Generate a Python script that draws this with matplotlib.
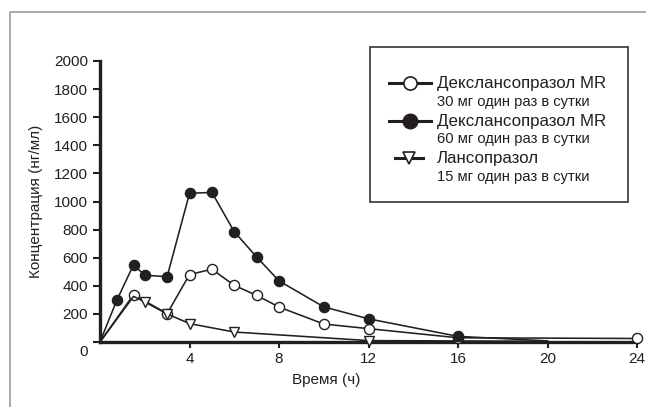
import matplotlib
matplotlib.use("Agg")
import matplotlib.pyplot as plt
from matplotlib.lines import Line2D
from matplotlib.patches import Rectangle
from matplotlib.transforms import ScaledTranslation

# данные (время, ч / концентрация, нг/мл)
t_60 = [0, 0.75, 1.5, 2, 3, 4, 5, 6, 7, 8, 10, 12, 16, 20]
c_60 = [0, 297, 550, 475, 465, 1058, 1065, 785, 605, 435, 250, 165, 40, 8]

t_30 = [0, 1.5, 3, 4, 5, 6, 7, 8, 10, 12, 16, 24]
c_30 = [0, 337, 202, 480, 518, 403, 332, 249, 128, 95, 30, 25]

t_15 = [0, 1.5, 2, 3, 4, 6, 12, 20]
c_15 = [0, 325, 285, 200, 131, 71, 10, 5]

x_ticks = [4, 8, 12, 16, 20, 24]
y_ticks = list(range(0, 2001, 200))

leg_names = ["Декслансопразол MR", "Декслансопразол MR", "Лансопразол"]
leg_doses = ["30 мг один раз в сутки", "60 мг один раз в сутки", "15 мг один раз в сутки"]

INK = "#231f20"
W, H = 646, 407
plt.rcParams["font.family"] = ["Liberation Sans", "DejaVu Sans"]

fig = plt.figure(figsize=(W / 100, H / 100), dpi=100)
ax = fig.add_axes([100 / W, 1 - 342 / H, 537 / W, 281 / H])


def px(x, y):
    return x / W, 1 - y / H


# серии
ax.plot(t_30, c_30, color=INK, lw=1.15, marker="o", ms=7.3, mfc="white", mec=INK, mew=1.0,
        markevery=list(range(1, len(t_30))), zorder=3, clip_on=False)
ax.plot(t_15, c_15, color=INK, lw=1.15, marker="v", ms=7.8, mfc="white", mec=INK, mew=1.0,
        markevery=[2, 3, 4, 5, 6], zorder=4, clip_on=False)
ax.plot(t_60, c_60, color=INK, lw=1.15, marker="o", ms=7.3, mfc=INK, mec=INK,
        markevery=list(range(1, len(t_60) - 1)), zorder=5, clip_on=False)

ax.set_xlim(0, 24)
ax.set_ylim(0, 2000)
ax.set_xticks(x_ticks)
ax.set_yticks(y_ticks)
ax.set_yticklabels([str(v) for v in y_ticks])

for s in ["top", "right"]:
    ax.spines[s].set_visible(False)
for s in ["left", "bottom"]:
    ax.spines[s].set_linewidth(2.4)
    ax.spines[s].set_color(INK)

ax.tick_params(axis="y", direction="out", length=5, width=1.5, pad=3.5, labelsize=11, colors=INK)
ax.tick_params(axis="x", direction="out", length=4, width=1.5, pad=3, labelsize=11, colors=INK)

# подпись "0" ниже оси
lab0 = ax.get_yticklabels()[0]
lab0.set_transform(lab0.get_transform() + ScaledTranslation(0, -0.09, fig.dpi_scale_trans))

ax.set_xlabel("Время (ч)", fontsize=11, color=INK)
ax.xaxis.set_label_coords(0.422, -0.11)
ax.set_ylabel("Концентрация (нг/мл)", fontsize=11, color=INK)
ax.yaxis.set_label_coords(-0.106, 0.5)

# внешняя рамка
fig.add_artist(Line2D([10 / W, 10 / W, 1], [0, 1 - 12 / H, 1 - 12 / H],
                      transform=fig.transFigure, color="#9a9a9a", lw=1.2))

# легенда
x0, y0 = px(370, 202)
fig.add_artist(Rectangle((x0, y0), 258 / W, 155 / H, transform=fig.transFigure,
                         fill=False, ec="#333333", lw=1.2))

rows = [83.3, 121, 158.3]
styles = [
    dict(marker="o", ms=9.5, mfc="white", mec=INK, mew=1.2, xs=(389, 431), mx=410),
    dict(marker="o", ms=10.5, mfc=INK, mec=INK, mew=1.0, xs=(389, 431), mx=410),
    dict(marker="v", ms=9, mfc="white", mec=INK, mew=1.2, xs=(395, 423), mx=409),
]
for yy, st, name, dose in zip(rows, styles, leg_names, leg_doses):
    xa, ya = px(st["xs"][0], yy)
    xb, _ = px(st["xs"][1], yy)
    fig.add_artist(Line2D([xa, xb], [ya, ya], transform=fig.transFigure, color=INK, lw=2.2))
    xm, _ = px(st["mx"], yy)
    fig.add_artist(Line2D([xm], [ya], transform=fig.transFigure, ls="none", marker=st["marker"],
                          ms=st["ms"], mfc=st["mfc"], mec=st["mec"], mew=st["mew"]))
    tx, _ = px(437, yy)
    fig.text(tx, ya, name, fontsize=12.2, color=INK, ha="left", va="center")
    _, yd = px(437, yy + 18.5)
    fig.text(tx, yd, dose, fontsize=10.6, color=INK, ha="left", va="center")

fig.savefig("out.png", dpi=100)
